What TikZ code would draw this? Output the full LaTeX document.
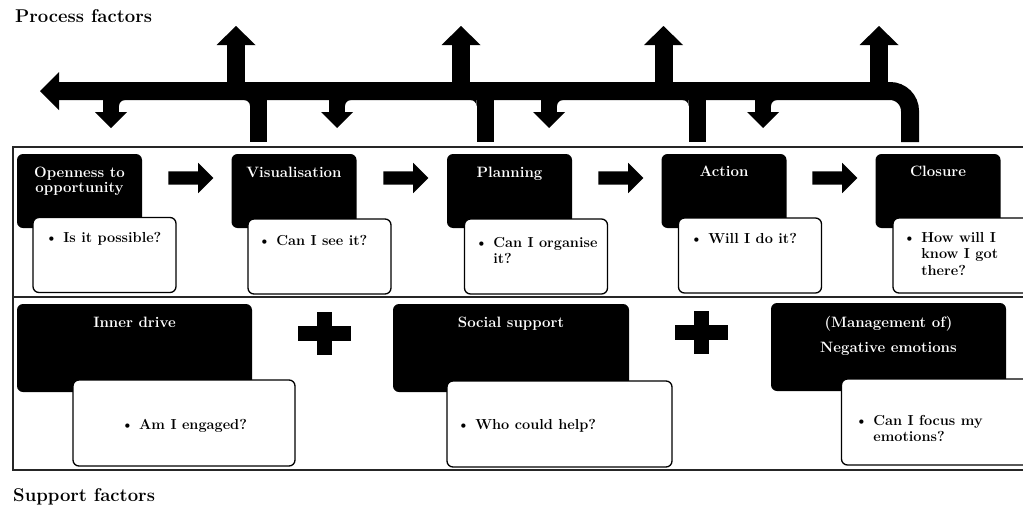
\documentclass[tikz,border=0pt]{standalone}
\usetikzlibrary{shapes.arrows}
\begin{document}
\begin{tikzpicture}[
    x=1pt, y=-1pt,
    % Box styles
    stage/.style={fill=black, rounded corners=6pt, minimum width=125pt, minimum height=74pt, inner sep=0pt},
    question/.style={draw=black, fill=white, line width=1.3pt, rounded corners=6pt, minimum width=143pt, minimum height=75pt, inner sep=0pt},
    support/.style={stage, minimum width=235pt, minimum height=88pt},
    support-q/.style={question, minimum width=222pt, minimum height=86pt},
    % Text styles
    stage-text/.style={text=white, font=\fontsize{15}{15}\selectfont\bfseries, inner sep=0pt},
    q-text/.style={font=\fontsize{14.5}{16.5}\selectfont\bfseries, inner sep=0pt},
    heading/.style={font=\fontsize{18.5}{20}\selectfont\bfseries, inner sep=0pt},
    % Arrow styles
    flowarrow/.style={single arrow, fill=black, minimum height=45pt, inner xsep=0pt, inner ysep=6.5pt, single arrow head extend=8.5pt},
    bar/.style={line width=18pt},
    frame/.style={draw=black!85, line width=1.6pt},
]
\clip (0,0) rectangle (1023,506);

% Titles
\node[heading, anchor=base west] (proc-title) at (15,22) {Process factors};
\node[heading, anchor=base west] (supp-title) at (13,501) {Support factors};

% === FEEDBACK ARROWS (top) ===
\fill (40,91) -- (59,72) -- (59,110) -- cycle;
\draw[bar, rounded corners=20pt] (58,91) -- (910,91) -- (910,142);

% Arrows going up
\draw[bar] (236,91) -- (236,44);
\fill (216.5,45) -- (236,26) -- (255.5,45) -- cycle;
\draw[bar] (461,91) -- (461,44);
\fill (441.5,45) -- (461,26) -- (480.5,45) -- cycle;
\draw[bar] (663.5,91) -- (663.5,44);
\fill (644,45) -- (663.5,26) -- (683,45) -- cycle;
\draw[bar] (879,91) -- (879,44);
\fill (859.5,45) -- (879,26) -- (898.5,45) -- cycle;

% Stems down to the stages
\draw[line width=17pt] (258.5,91) -- (258.5,142);
\draw[line width=17pt] (485,91) -- (485,142);
\draw[line width=17pt] (697,91) -- (697,142);
\fill (244,100) -- (250,100) -- (250,106) arc[start angle=0, end angle=-90, radius=6] -- cycle;
\fill (470.5,100) -- (476.5,100) -- (476.5,106) arc[start angle=0, end angle=-90, radius=6] -- cycle;
\fill (682.5,100) -- (688.5,100) -- (688.5,106) arc[start angle=0, end angle=-90, radius=6] -- cycle;

% Small arrows going down
\draw[line width=16pt] (111,91) -- (111,113);
\fill (95,112) -- (111,128) -- (127,112) -- cycle;
\draw[line width=16pt] (337,91) -- (337,113);
\fill (321,112) -- (337,128) -- (353,112) -- cycle;
\draw[line width=16pt] (549,91) -- (549,113);
\fill (533,112) -- (549,128) -- (565,112) -- cycle;
\draw[line width=16pt] (763,91) -- (763,113);
\fill (747,112) -- (763,128) -- (779,112) -- cycle;
\fill (125,100) -- (119,100) -- (119,106) arc[start angle=180, end angle=270, radius=6] -- cycle;
\fill (351,100) -- (345,100) -- (345,106) arc[start angle=180, end angle=270, radius=6] -- cycle;
\fill (563,100) -- (557,100) -- (557,106) arc[start angle=180, end angle=270, radius=6] -- cycle;
\fill (777,100) -- (771,100) -- (771,106) arc[start angle=180, end angle=270, radius=6] -- cycle;

% === FRAME ===
\draw[frame] (13,147) rectangle (1030,470);
\draw[frame] (13,297) -- (1030,297);

% === PROCESS STAGES ===
\node[stage] (open) at (79.5,191) {};
\node[stage-text, anchor=base] (open-label) at (79.5,177) {\begin{tabular}[t]{@{}c@{}}Openness to\\opportunity\end{tabular}};
\node[question] (open-q) at (104.5,255) {};
\node[q-text, anchor=base west] (open-qt) at (45,242) {\textbullet\ Is it possible?};

\node[stage] (vis) at (294,191) {};
\node[stage-text, anchor=base] (vis-label) at (294,177) {Visualisation};
\node[question] (vis-q) at (319.5,256.5) {};
\node[q-text, anchor=base west] (vis-qt) at (258,245) {\textbullet\ Can I see it?};

\node[stage] (plan) at (509.5,191) {};
\node[stage-text, anchor=base] (plan-label) at (509.5,177) {Planning};
\node[question] (plan-q) at (536,256.5) {};
\node[q-text, anchor=base west] (plan-qt) at (475,247) {\begin{tabular}[t]{@{}l@{\ }l@{}}\textbullet & Can I organise\\ & it?\end{tabular}};

\node[stage] (act) at (724,191) {};
\node[stage-text, anchor=base] (act-label) at (724,176) {Action};
\node[question] (act-q) at (750,255.5) {};
\node[q-text, anchor=base west] (act-qt) at (690,243) {\textbullet\ Will I do it?};

\node[stage] (clo) at (938,191) {};
\node[stage-text, anchor=base] (clo-label) at (938,176) {Closure};
\node[question] (clo-q) at (964.5,255.5) {};
\node[q-text, anchor=base west] (clo-qt) at (903,242) {\begin{tabular}[t]{@{}l@{\ }l@{}}\textbullet & How will I\\ & know I got\\ & there?\end{tabular}};

% Steps between stages
\node[flowarrow] (step1) at (187.5,178) {};
\node[flowarrow] (step2) at (402.5,178) {};
\node[flowarrow] (step3) at (617.5,178) {};
\node[flowarrow] (step4) at (831.5,178) {};

% === SUPPORT FACTORS ===
\node[support] (inner) at (134.5,348) {};
\node[stage-text, anchor=base] (inner-label) at (134.5,327) {Inner drive};
\node[support-q] (inner-q) at (184,423) {};
\node[q-text, anchor=base] (inner-qt) at (184,429) {\textbullet\ Am I engaged?};

\node[support, minimum width=236pt] (social) at (511,348) {};
\node[stage-text, anchor=base] (social-label) at (511,327) {Social support};
\node[support-q, minimum width=225pt] (social-q) at (559.5,424) {};
\node[q-text, anchor=base west] (social-qt) at (457,429) {\textbullet\ Who could help?};

\node[support] (neg) at (888.5,347) {};
\node[stage-text, anchor=base] (neg-label) at (888.5,327) {\begin{tabular}[t]{@{}c@{}}(Management of)\\[10pt]Negative emotions\end{tabular}};
\node[support-q] (neg-q) at (952.5,422) {};
\node[q-text, anchor=base west] (neg-qt) at (855,425) {\begin{tabular}[t]{@{}l@{\ }l@{}}\textbullet & Can I focus my\\ & emotions?\end{tabular}};

% Plus signs
\fill (298,326) rectangle (351,341);
\fill (317,312) rectangle (332,355);
\fill (675,325) rectangle (728,340);
\fill (694,311) rectangle (709,354);

\end{tikzpicture}
\end{document}
